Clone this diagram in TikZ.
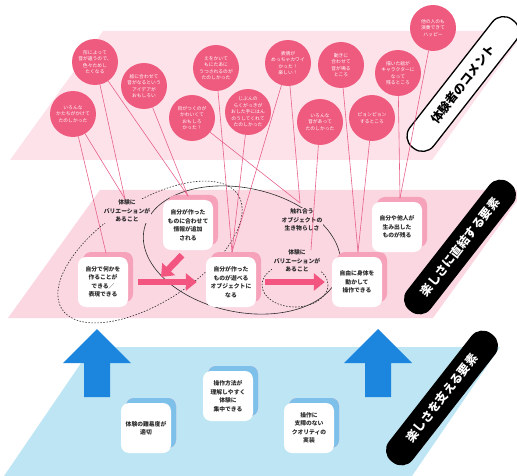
\documentclass[tikz,border=0pt]{standalone}
\usepackage{fontspec}
\setmainfont{Noto Sans CJK JP}
\usetikzlibrary{arrows.meta,shadows}

\definecolor{toppink}{HTML}{FDE2EA}
\definecolor{midpink}{HTML}{FBD7E2}
\definecolor{bubblepink}{HTML}{EF5A7F}
\definecolor{linepink}{HTML}{E8628A}
\definecolor{shadowpink}{HTML}{F5A2BA}
\definecolor{arrowpink}{HTML}{F2557F}
\definecolor{baseblue}{HTML}{BEE5F3}
\definecolor{shadowblue}{HTML}{7DC0EA}
\definecolor{arrowblue}{HTML}{1C86DF}
\definecolor{ink}{HTML}{2B2B2B}

\tikzset{
  bubble/.style={circle, fill=bubblepink, text=white, minimum size=46pt, inner sep=0pt,
    align=center, font=\fontsize{4.8}{6.5}\selectfont},
  stagebox/.style={fill=white, rounded corners=8pt, minimum width=50pt, minimum height=50pt,
    inner sep=1pt, align=center, text=ink, font=\bfseries\fontsize{5.8}{8.5}\selectfont,
    copy shadow={shadow xshift=5pt, shadow yshift=5pt, fill=shadowpink, draw=none}},
  basebox/.style={stagebox, copy shadow={shadow xshift=5pt, shadow yshift=5pt, fill=shadowblue, draw=none}},
  plainlabel/.style={fill=midpink, inner sep=1pt, align=center, text=ink,
    font=\bfseries\fontsize{5.8}{8.5}\selectfont},
  layerbar/.style={fill=black, text=white, rounded corners=14pt, minimum width=162pt,
    minimum height=30pt, rotate=52, font=\bfseries\fontsize{12}{12}\selectfont},
  stem/.style={draw=linepink, line width=0.6pt},
  flowarrow/.style={draw=arrowpink, line width=6.5pt, -{Triangle[length=11pt,width=17pt]}},
  ring/.style={draw=ink, line width=0.6pt},
  dashring/.style={draw=ink, line width=0.6pt, dash pattern=on 1.5pt off 1.5pt}
}

\begin{document}
\begin{tikzpicture}[x=1pt,y=-1pt]
  \useasboundingbox (0,0) rectangle (517,476);
  % three layers
  \fill[toppink] (103,31) -- (525,31) -- (432,160) -- (10,160) -- cycle;
  \fill[midpink] (100,190) -- (525,190) -- (433,318) -- (8,318) -- cycle;
  \fill[baseblue] (92,347) -- (500,347) -- (412,476) -- (4,476) -- cycle;

  % groupings on the middle layer
  \draw[dashring, rotate around={33:(150,252)}] (150,252) ellipse [x radius=105, y radius=50];
  \draw[ring, rotate around={-12:(242,250)}] (242,250) ellipse [x radius=100, y radius=62];
  \draw[dashring] (295,285) ellipse [x radius=33, y radius=22];

  % elements that make it fun
  \node[stagebox] (sMake) at (103,282) {自分で何かを\\作ることが\\できる／\\表現できる};
  \node[stagebox] (sInfo) at (188,225) {自分が作った\\ものに合わせて\\情報が追加\\される};
  \node[stagebox] (sPlay) at (231,282) {自分が作った\\ものが遊べる\\オブジェクトに\\なる};
  \node[stagebox] (sBody) at (357,282) {自由に身体を\\動かして\\操作できる};
  \node[stagebox] (sKeep) at (397,227) {自分や他人が\\生み出した\\ものが残る};
  \node[plainlabel] (lVar) at (127,211) {体験に\\バリエーションが\\あること};
  \node[plainlabel] (lLive) at (302,220) {触れ合う\\オブジェクトの\\生き物らしさ};
  \node[plainlabel] (lVar2) at (297,261) {体験に\\バリエーションが\\あること};

  \coordinate (merge) at (161,277);
  \draw[flowarrow, shorten <=10pt, shorten >=9pt] (sMake.east) -- (sPlay.west);
  \draw[flowarrow] (sInfo.south) ++(-6,5) -- (merge);
  \draw[flowarrow, shorten <=9pt, shorten >=7pt] (sPlay.east) -- (sBody.west);

  % elements that support it
  \fill[arrowblue] (97,329) -- (131,363) -- (110,363) -- (110,397) -- (84,397) -- (84,363) -- (63,363) -- cycle;
  \fill[arrowblue] (378,329) -- (412,363) -- (391,363) -- (391,397) -- (365,397) -- (365,363) -- (344,363) -- cycle;
  \node[basebox] (bLevel) at (146,428) {体験の難易度が\\適切};
  \node[basebox] (bEasy) at (228,396) {操作方法が\\理解しやすく\\体験に\\集中できる};
  \node[basebox] (bQual) at (309,428) {操作に\\支障のない\\クオリティの\\実装};

  % layer titles
  \node[layerbar, fill=white, draw=black, line width=1.3pt, text=black] (tComment) at (463,84) {体験者のコメント};
  \node[layerbar] (tDirect) at (460,247) {楽しさに直結する要素};
  \node[layerbar] (tSupport) at (442,398) {楽しさを支える要素};

  % comments
  \node[bubble] (cShape) at (95,62) {形によって\\音が違うので、\\色々ためし\\たくなる};
  \node[bubble] (cIdea) at (144,86) {絵に合わせて\\音がなるという\\アイデアが\\おもしろい};
  \node[bubble] (cForms) at (73,114) {いろんな\\かたちがかけて\\たのしかった};
  \node[bubble] (cEyes) at (192,118) {目がつくのが\\かわいくて\\おもしろ\\かった！};
  \node[bubble] (cScreen) at (216,68) {えをかいて\\もにたあに\\うつされるのが\\たのしかった};
  \node[bubble] (cTouch) at (248,112) {じぶんの\\らくがっきが\\おした手にはん\\のうしてくれて\\たのしかった};
  \node[bubble] (cFace) at (288,63) {表情が\\めっちゃカワイ\\かった！\\楽しい！};
  \node[bubble] (cMove) at (341,65) {動きに\\合わせて\\音が鳴る\\ところ};
  \node[bubble] (cSounds) at (320,122) {いろんな\\音があって\\たのしかった};
  \node[bubble] (cJump) at (372,118) {ピョンピョン\\するところ};
  \node[bubble] (cChar) at (398,73) {描いた絵が\\キャラクターに\\なって\\残るところ};
  \node[bubble] (cShare) at (433,28) {他の人のも\\演奏できて\\ハッピー};

  \coordinate (pMake) at (106,253);
  \coordinate (pVar) at (125,199);
  \coordinate (pInfo) at (188,196);
  \coordinate (pLive) at (300,203);
  \coordinate (pPlay) at (232,252);
  \coordinate (pVar2) at (311,250);
  \coordinate (pBody) at (358,252);
  \coordinate (pKeep) at (400,198);
  \draw[stem] (cForms) -- (pMake);
  \draw[stem] (cForms) -- (pVar);
  \draw[stem] (cShape) -- (pVar);
  \draw[stem] (cShape) -- (pInfo);
  \draw[stem] (cIdea) -- (pInfo);
  \draw[stem] (cEyes) -- (pLive);
  \draw[stem] (cScreen) -- (pPlay);
  \draw[stem] (cTouch) -- (pPlay);
  \draw[stem] (cFace) -- (pPlay);
  \draw[stem] (cFace) -- (pLive);
  \draw[stem] (cSounds) -- (pVar2);
  \draw[stem] (cMove) -- (pBody);
  \draw[stem] (cJump) -- (pBody);
  \draw[stem] (cChar) -- (pKeep);
  \draw[stem] (cShare) -- (pKeep);
\end{tikzpicture}
\end{document}
